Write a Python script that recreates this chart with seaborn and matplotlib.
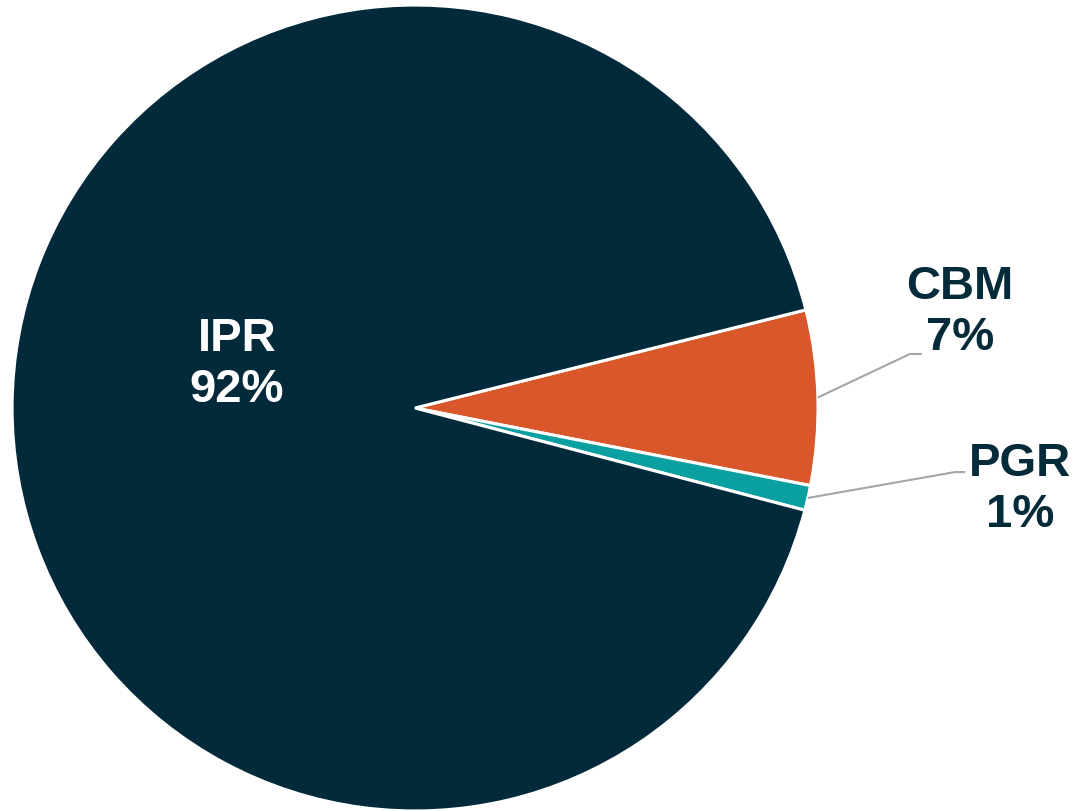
import numpy as np
import matplotlib
matplotlib.use("Agg")
import matplotlib.pyplot as plt
import seaborn as sns

sns.set_theme(style="white")
plt.rcParams["font.family"] = ["Liberation Sans", "DejaVu Sans"]

# data (clockwise from the CBM wedge)
labels = ["CBM", "PGR", "IPR"]
shares = [7, 1, 92]
colors = ["#d9572b", "#0a9fa0", "#022a3a"]

fig = plt.figure(figsize=(10.86, 8.11), dpi=100)
ax = fig.add_axes([0, 0, 1, 1])

start = 14.1
wedges, _ = ax.pie(shares, colors=colors, startangle=start, counterclock=False,
                   wedgeprops=dict(edgecolor="white", linewidth=2.2))

ax.set_xlim(-1.03, 1.665)
ax.set_ylim(-1.0, 1.0124)
ax.set_aspect("equal")
ax.axis("off")

dark = "#032b3a"
fs = 34

# label placement (data units) and leader elbows
text_pos = {"CBM": (1.352, 0.236), "PGR": (1.501, -0.203), "IPR": (-0.442, 0.107)}
elbows = {"CBM": [(1.228, 0.134), (1.258, 0.134)],
          "PGR": [(1.340, -0.159), (1.365, -0.159)]}

for w, lab, val in zip(wedges, labels, shares):
    mid = np.deg2rad((w.theta1 + w.theta2) / 2)
    tx, ty = text_pos[lab]
    col = "white" if lab == "IPR" else dark
    ax.text(tx, ty, f"{lab}\n{val}%", ha="center", va="center", fontsize=fs,
            fontweight="bold", color=col, linespacing=1.2)
    if lab in elbows:
        pts = [(np.cos(mid), np.sin(mid))] + elbows[lab]
        xs, ys = zip(*pts)
        ax.plot(xs, ys, color="#a6a6a6", linewidth=1.5, solid_capstyle="butt")

fig.savefig("out.png", dpi=100)
